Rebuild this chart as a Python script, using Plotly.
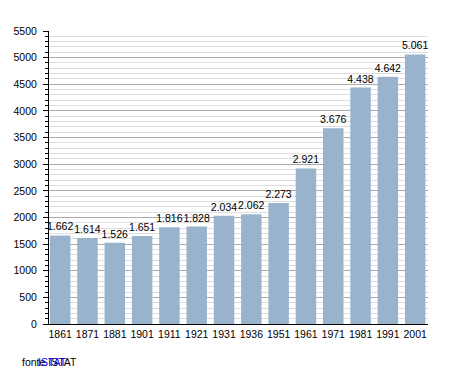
import plotly.graph_objects as go

years = ["1861", "1871", "1881", "1901", "1911", "1921", "1931", "1936", "1951", "1961", "1971", "1981", "1991", "2001"]
population = [1662, 1614, 1526, 1651, 1816, 1828, 2034, 2062, 2273, 2921, 3676, 4438, 4642, 5061]
labels = [f"{v:,}".replace(",", ".") for v in population]

# page has an 8px body margin; figure is drawn offset by (8, 8)
OFF = 8
W, H = 455 - OFF, 373 - OFF
L, T = 49 - OFF, 31 - OFF
R = W - (428 - OFF)
B = H - (324 - OFF)
pw, ph = W - L - R, H - T - B

def px(x):
    return (x - OFF - L) / pw

def py(y):
    return (H - B - (y - OFF)) / ph

FONT = "Liberation Sans, Arial, sans-serif"

fig = go.Figure(go.Bar(
    x=years, y=population, text=labels, textposition="outside",
    marker=dict(color="#99b3cc", line=dict(width=0)),
    textfont=dict(family=FONT, size=10.5, color="black"),
    constraintext="none", cliponaxis=False,
))
fig.update_layout(
    width=W, height=H,
    margin=dict(l=L, r=R, t=T, b=B, autoexpand=False),
    paper_bgcolor="white", plot_bgcolor="white",
    bargap=0.25, showlegend=False,
    font=dict(family=FONT, size=10.5, color="black"),
    xaxis=dict(type="category", range=[-0.41, 13.47], showline=True, linecolor="black",
               linewidth=1, ticks="", tickfont=dict(size=10.5), automargin=False),
    yaxis=dict(range=[0, 5500], dtick=500, showline=True, linecolor="black", linewidth=1,
               ticks="outside", ticklen=5, tickcolor="black", ticklabelstandoff=4,
               gridcolor="#aaaaaa", gridwidth=1, zeroline=False, automargin=False,
               minor=dict(dtick=100, showgrid=True, gridcolor="#dddddd",
                          ticks="outside", ticklen=3, tickcolor="black"),
               tickfont=dict(size=10.5)),
    annotations=[
        dict(x=px(20), y=py(362), xref="paper", yref="paper", text="fonte ISTAT", showarrow=False,
             xanchor="left", yanchor="middle", font=dict(size=10.5, color="black")),
        dict(x=px(36), y=py(362), xref="paper", yref="paper", text="ISTAT", showarrow=False,
             xanchor="left", yanchor="middle", font=dict(size=10.5, color="blue")),
    ],
)
fig.write_html("out.html", config={"displayModeBar": False})
